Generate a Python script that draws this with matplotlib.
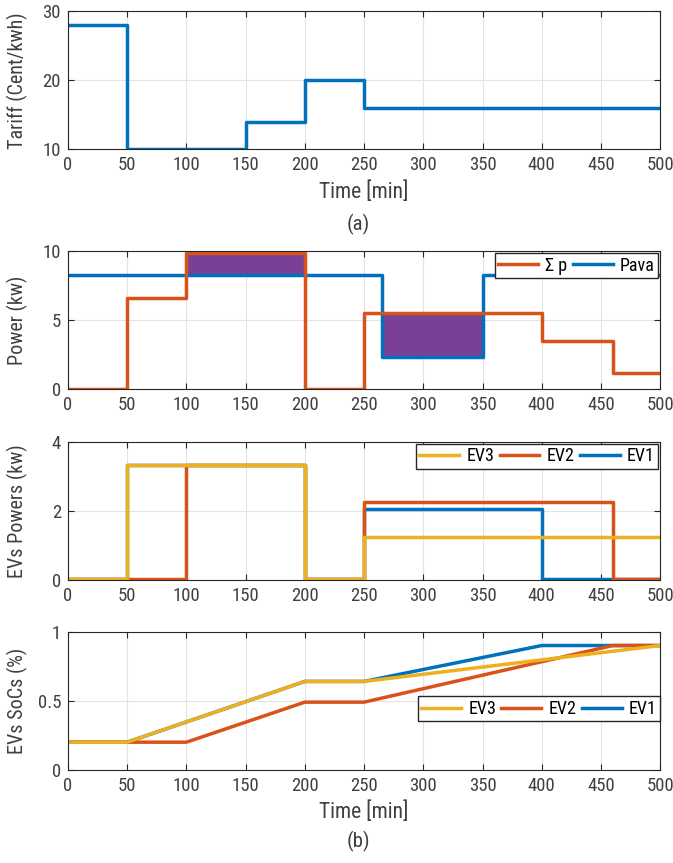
import matplotlib
matplotlib.use("Agg")
import matplotlib.pyplot as plt
import numpy as np

# tariff (step values start at each breakpoint)
t_tariff = [0, 50, 150, 200, 250, 500]
tariff = [28, 10, 14, 20, 16, 16]

# total EV power vs available power
t_pow = [0, 50, 100, 200, 250, 265, 350, 400, 460, 500]
sum_p = [0.03, 6.6, 9.9, 0.03, 5.5, 5.5, 5.5, 3.5, 1.2, 1.2]
p_ava = [8.3, 8.3, 8.3, 8.3, 8.3, 2.3, 8.3, 8.3, 8.3, 8.3]

# individual EV powers
t_ev = [0, 50, 100, 200, 250, 400, 460, 500]
ev1_p = [0.03, 3.33, 3.33, 0.03, 2.05, 0.03, 0.03, 0.03]
ev2_p = [0.03, 0.03, 3.33, 0.03, 2.25, 2.25, 0.03, 0.03]
ev3_p = [0.03, 3.33, 3.33, 0.03, 1.25, 1.25, 1.25, 1.25]

# state of charge (piecewise linear)
t_soc1, soc1 = [0, 50, 200, 250, 400, 500], [0.2, 0.2, 0.64, 0.64, 0.9, 0.9]
t_soc2, soc2 = [0, 100, 200, 250, 460, 500], [0.2, 0.2, 0.49, 0.49, 0.9, 0.9]
t_soc3, soc3 = [0, 50, 200, 250, 500], [0.2, 0.2, 0.64, 0.64, 0.9]

BLUE, RED, YEL, PUR = "#0072BD", "#D95319", "#EDB120", "#7A4098"
TXT = "#404040"

plt.rcParams.update({"font.family": ["Roboto Condensed", "Roboto", "DejaVu Sans"],
                     "font.size": 12, "axes.edgecolor": "#262626",
                     "xtick.color": "#262626", "ytick.color": "#262626",
                     "xtick.labelcolor": TXT, "ytick.labelcolor": TXT,
                     "xtick.direction": "in", "ytick.direction": "in",
                     "xtick.top": True, "ytick.right": True,
                     "axes.linewidth": 0.8})

fig = plt.figure(figsize=(6.73, 8.63), dpi=100)
L, W = 0.101, 0.880
bots = [0.827, 0.549, 0.328, 0.108]
H = 0.160
axes = [fig.add_axes([L, b, W, H]) for b in bots]
lw = 2.5
LEG = dict(fancybox=False, edgecolor="#262626", framealpha=1, borderpad=0.2,
           handlelength=2.2, columnspacing=0.3, handletextpad=0.4,
           fontsize=13)


def style(ax, ylim, yticks):
    ax.set_xlim(0, 500); ax.set_ylim(*ylim)
    ax.set_xticks(range(0, 501, 50)); ax.set_yticks(yticks)
    ax.grid(True, color="#e3e3e3", lw=0.8)
    ax.set_axisbelow(True)
    ax.tick_params(length=4, labelsize=13.5, pad=5)


ax = axes[0]
ax.step(t_tariff, tariff, where="post", color=BLUE, lw=lw)
style(ax, (10, 30), [10, 20, 30])
ax.set_ylabel("Tariff (Cent/kwh)", color=TXT, fontsize=14.5)
ax.set_xlabel("Time [min]", color=TXT, fontsize=15.5, labelpad=5)
fig.text(0.532, 0.733, "(a)", ha="center", color=TXT, fontsize=15)

ax = axes[1]
sp, pa = np.array(sum_p), np.array(p_ava)
ax.fill_between(t_pow, pa, np.maximum(sp, pa), step="post", color=PUR, lw=0)
ax.step(t_pow, pa, where="post", color=BLUE, lw=lw, label="Pava")
ax.step(t_pow, sp, where="post", color=RED, lw=lw, label="\u03a3 p")
style(ax, (0, 10), [0, 5, 10])
ax.set_ylabel("Power (kw)", color=TXT, fontsize=14.5)
h, l = ax.get_legend_handles_labels()
ax.legend(h[::-1], l[::-1], ncol=2, loc="upper right", borderaxespad=0.1,
          **LEG)

ax = axes[2]
ax.step(t_ev, ev1_p, where="post", color=BLUE, lw=lw, label="EV1")
ax.step(t_ev, ev2_p, where="post", color=RED, lw=lw, label="EV2")
ax.step(t_ev, ev3_p, where="post", color=YEL, lw=lw, label="EV3")
style(ax, (0, 4), [0, 2, 4])
ax.set_ylabel("EVs Powers (kw)", color=TXT, fontsize=14.5)
h, l = ax.get_legend_handles_labels()
ax.legend(h[::-1], l[::-1], ncol=3, loc="upper right", borderaxespad=0.1,
          **LEG)

ax = axes[3]
ax.plot(t_soc1, soc1, color=BLUE, lw=lw, label="EV1")
ax.plot(t_soc2, soc2, color=RED, lw=lw, label="EV2")
ax.plot(t_soc3, soc3, color=YEL, lw=lw, label="EV3")
style(ax, (0, 1), [0, 0.5, 1])
ax.set_yticklabels(["0", "0.5", "1"])
ax.set_ylabel("EVs SoCs (%)", color=TXT, fontsize=14.5)
ax.set_xlabel("Time [min]", color=TXT, fontsize=15.5, labelpad=5)
h, l = ax.get_legend_handles_labels()
ax.legend(h[::-1], l[::-1], ncol=3, loc="lower right",
          bbox_to_anchor=(1.0, 0.35), borderaxespad=0.0, **LEG)
fig.text(0.532, 0.018, "(b)", ha="center", color=TXT, fontsize=15)

for a in axes:
    a.yaxis.set_label_coords(-0.068, 0.5)

fig.savefig("out.png", dpi=100)
